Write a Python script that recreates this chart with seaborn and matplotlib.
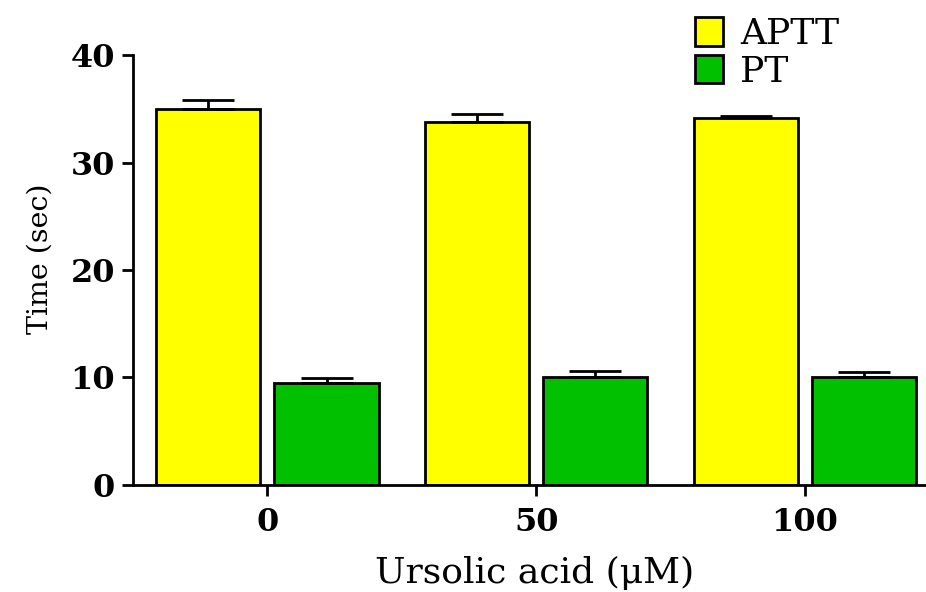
import numpy as np
import pandas as pd
import seaborn as sns
import matplotlib.pyplot as plt
from matplotlib.patches import Patch

# values
doses = ['0', '50', '100']
tests = ['APTT', 'PT']
aptt_mean = [35.0, 33.8, 34.1]
aptt_err = [0.8, 0.7, 0.2]
pt_mean = [9.5, 10.05, 10.05]
pt_err = [0.4, 0.5, 0.45]
colors = ['#FFFF00', '#00C000']

df = pd.DataFrame({'dose': doses * 2,
                   'test': ['APTT'] * 3 + ['PT'] * 3,
                   'time': aptt_mean + pt_mean})
errs = [aptt_err, pt_err]

sns.set_style('ticks')
plt.rcParams['font.family'] = ['DejaVu Serif']
plt.rcParams['text.color'] = 'black'
plt.rcParams['axes.labelcolor'] = 'black'
plt.rcParams['xtick.color'] = 'black'
plt.rcParams['ytick.color'] = 'black'
plt.rcParams['axes.edgecolor'] = 'black'

fig = plt.figure(figsize=(9.26, 5.92), dpi=100)
ax = fig.add_axes([0.1436, 0.181, 0.8564, 0.726])

sns.barplot(data=df, x='dose', y='time', hue='test', order=doses,
            hue_order=tests, palette=colors, saturation=1, width=0.88,
            gap=0.12, edgecolor='black', linewidth=2, errorbar=None,
            legend=False, ax=ax)

# one-sided error bars on top of each bar
for cont, e in zip(ax.containers, errs):
    xs = [b.get_x() + b.get_width() / 2 for b in cont]
    ys = [b.get_height() for b in cont]
    ax.errorbar(xs, ys, yerr=[np.zeros(len(e)), e], fmt='none',
                ecolor='black', elinewidth=2, capsize=19, capthick=2,
                zorder=1)

ax.set_ylim(0, 40)
ax.set_yticks([0, 10, 20, 30, 40])
ax.set_xlim(-0.5, 2.45)
sns.despine(ax=ax)
for s in ['left', 'bottom']:
    ax.spines[s].set_linewidth(2)
ax.tick_params(width=2, length=8)
ax.tick_params(axis='y', pad=5)
ax.tick_params(axis='x', pad=8)
for lab in ax.get_xticklabels() + ax.get_yticklabels():
    lab.set_fontweight('bold')
    lab.set_fontsize(23)

ax.set_xlabel('Ursolic acid (μM)', fontsize=26)
ax.xaxis.set_label_coords(0.506, -0.165)
ax.set_ylabel('Time (sec)', fontsize=20.5)
ax.yaxis.set_label_coords(-0.1, 0.525)

handles = [Patch(facecolor=c, edgecolor='black', linewidth=2) for c in colors]
ax.legend(handles, tests, loc='upper left', bbox_to_anchor=(695 / 926, 1 - 17 / 592),
          bbox_transform=fig.transFigure, frameon=False, fontsize=26,
          handlelength=0.77, handleheight=0.82, labelspacing=0.1,
          handletextpad=0.48, borderpad=0, borderaxespad=0)

fig.savefig('out.png', dpi=100)
